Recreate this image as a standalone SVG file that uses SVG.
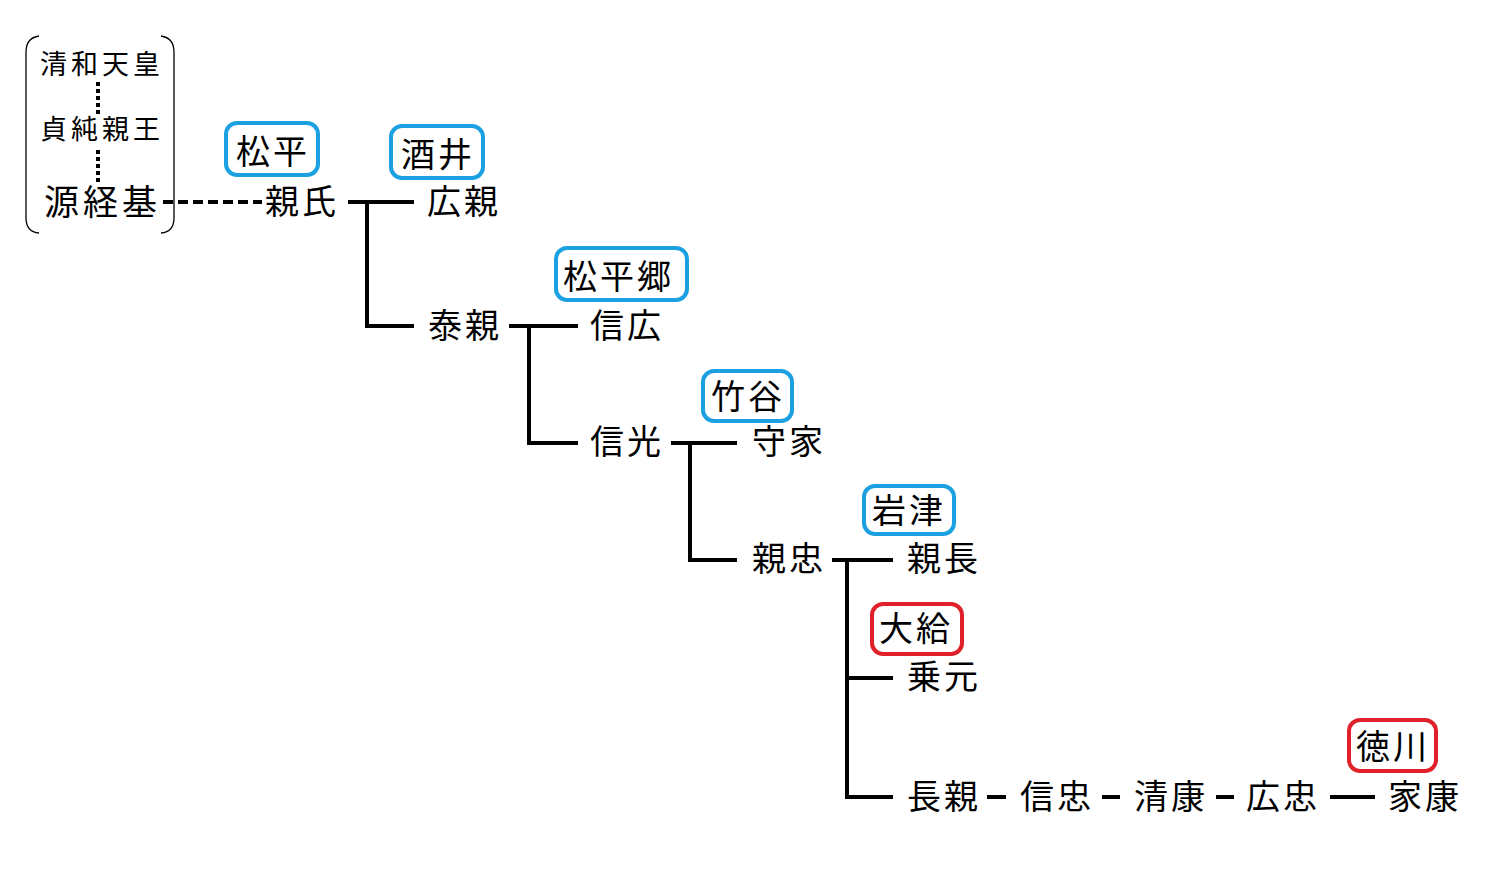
<svg xmlns="http://www.w3.org/2000/svg" width="1490" height="870" viewBox="0 0 1490 870">
<style>
.t{font-family:"Noto Sans CJK JP","Noto Sans CJK SC",sans-serif;font-size:34px;fill:#000;dominant-baseline:central;letter-spacing:3px}
.s{font-size:27px;letter-spacing:4px}
.ln{stroke:#000;stroke-width:4;fill:none}
.dot{stroke:#000;stroke-width:4;fill:none;stroke-dasharray:4 3}
.dash{stroke:#000;stroke-width:4;fill:none;stroke-dasharray:10 5}
.bb{fill:none;stroke:#1ba1e2;stroke-width:4}
.rb{fill:none;stroke:#e0202a;stroke-width:4}
.br{fill:none;stroke:#000;stroke-width:1.3}
</style>
<rect width="1490" height="870" fill="#fff"/>
<g id="ancestors">
<path class="br" d="M39,36 Q26,38 26,52 L26,218 Q26,232 39,233"/>
<path class="br" d="M161,36 Q174,38 174,52 L174,218 Q174,232 161,233"/>
<text class="t s" x="40" y="62">清和天皇</text>
<text class="t s" x="40" y="127">貞純親王</text>
<text class="t" x="44" y="199" style="font-size:35px;letter-spacing:4px">源経基</text>
</g>
<g id="connectors">
<line class="dot" x1="98" y1="82" x2="98" y2="114"/>
<line class="dot" x1="98" y1="150" x2="98" y2="182"/>
<line class="dash" x1="163" y1="202" x2="262" y2="202"/>
<path class="ln" d="M348,202 H414 M367,202 V326 H414"/>
<path class="ln" d="M509,326 H578 M529,326 V443 H578"/>
<path class="ln" d="M671,443 H737 M690,443 V560 H737"/>
<path class="ln" d="M832,560 H893 M847,560 V797 H893 M847,678 H893"/>
<path class="ln" d="M987,797 H1006 M1102,797 H1120 M1216,797 H1234 M1330,797 H1375"/>
</g>
<g id="n-chikauji">
<rect class="bb" x="226" y="123" width="92" height="52" rx="11"/>
<text class="t" x="236" y="149">松平</text>
<text class="t" x="265" y="199">親氏</text>
</g>
<g id="n-hirochika">
<rect class="bb" x="391" y="126" width="92" height="52" rx="11"/>
<text class="t" x="401" y="152">酒井</text>
<text class="t" x="427" y="199">広親</text>
</g>
<g id="n-yasuchika">
<text class="t" x="428" y="323">泰親</text>
</g>
<g id="n-nobuhiro">
<rect class="bb" x="556" y="248" width="131" height="52" rx="11"/>
<text class="t" x="563" y="274">松平郷</text>
<text class="t" x="590" y="323">信広</text>
</g>
<g id="n-nobumitsu">
<text class="t" x="590" y="439">信光</text>
</g>
<g id="n-moriie">
<rect class="bb" x="703" y="371" width="89" height="50" rx="11"/>
<text class="t" x="711" y="394">竹谷</text>
<text class="t" x="752" y="439">守家</text>
</g>
<g id="n-chikatada">
<text class="t" x="752" y="556">親忠</text>
</g>
<g id="n-chikanaga">
<rect class="bb" x="864" y="486" width="90" height="48" rx="11"/>
<text class="t" x="872" y="508">岩津</text>
<text class="t" x="907" y="556">親長</text>
</g>
<g id="n-norimoto">
<rect class="rb" x="872" y="604" width="90" height="50" rx="11"/>
<text class="t" x="879" y="626">大給</text>
<text class="t" x="907" y="674">乗元</text>
</g>
<g id="n-nagachika"><text class="t" x="907" y="794">長親</text></g>
<g id="n-nobutada"><text class="t" x="1020" y="794">信忠</text></g>
<g id="n-kiyoyasu"><text class="t" x="1134" y="794">清康</text></g>
<g id="n-hirotada"><text class="t" x="1246" y="794">広忠</text></g>
<g id="n-ieyasu">
<rect class="rb" x="1349" y="720" width="87" height="51" rx="11"/>
<text class="t" x="1356" y="744">徳川</text>
<text class="t" x="1388" y="794">家康</text>
</g>
</svg>
